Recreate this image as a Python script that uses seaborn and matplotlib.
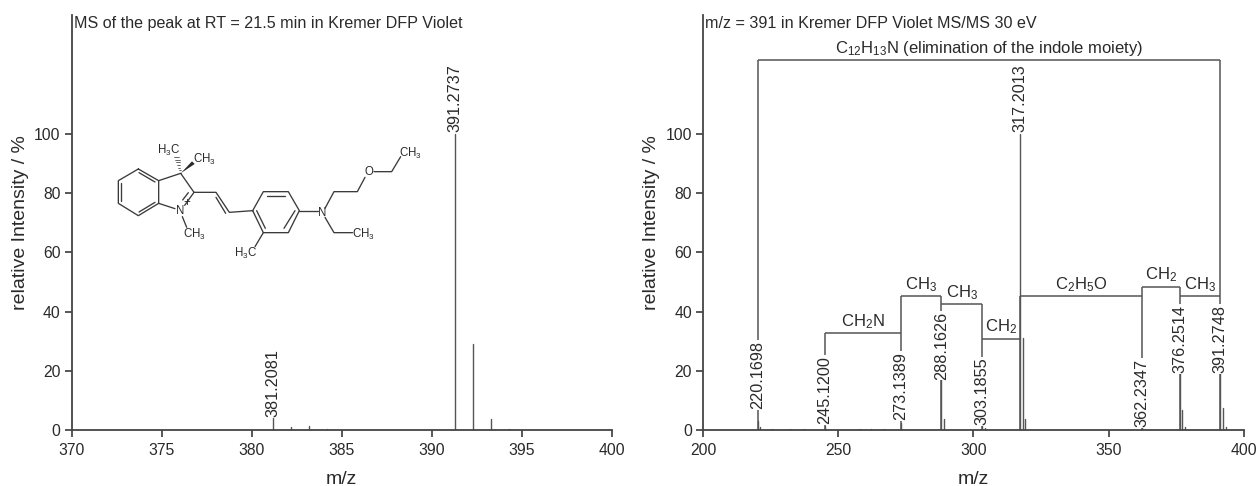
import pandas as pd
import matplotlib
matplotlib.use("Agg")
import matplotlib.pyplot as plt
from matplotlib.patches import Polygon
import seaborn as sns

# ── Data ─────────────────────────────────────────────────────────────────────
MS_MZ = [381.2081, 382.21, 383.21, 384.21, 391.2737, 392.277, 393.28, 394.28]
MS_INT = [4.2, 0.9, 1.3, 0.2, 100, 29, 3.6, 0.3]
MS_LABELS = [("381.2081", 381.2081, 4.4), ("391.2737", 391.2737, 100.7)]

MSMS_MZ = [220.1698, 221.17, 225.5, 232.0, 237.5, 245.12, 258.0, 262.0, 267.0,
           273.1389, 288.1626, 289.17, 303.1855, 304.19, 317.2013, 318.205,
           319.21, 362.2347, 376.2514, 377.255, 378.26, 391.2748, 392.28, 393.28]
MSMS_INT = [3, 1.0, 0.4, 0.5, 0.3, 1.2, 0.3, 0.3, 0.3,
            2.5, 18, 3.8, 1.5, 0.7, 100, 31, 3.8,
            1.0, 20, 6.8, 1.0, 20, 7.4, 1.0]
MSMS_LABELS = [("220.1698", 220.1698, 7.0), ("245.1200", 245.12, 2.0),
               ("273.1389", 273.1389, 3.4), ("288.1626", 288.1626, 17.0),
               ("303.1855", 303.1855, 1.7), ("317.2013", 317.2013, 100.7),
               ("362.2347", 362.2347, 1.0), ("376.2514", 376.2514, 19.3),
               ("391.2748", 391.2748, 19.3)]

# neutral losses: label, from m/z, to m/z, level
LOSS_LABELS = ["CH$_2$N", "CH$_3$", "CH$_3$", "CH$_2$", "C$_2$H$_5$O", "CH$_2$", "CH$_3$",
               "C$_{12}$H$_{13}$N (elimination of the indole moiety)"]
LOSS_FROM = [245.12, 273.1389, 288.1626, 303.1855, 317.2013, 362.2347, 376.2514, 220.1698]
LOSS_TO = [273.1389, 288.1626, 303.1855, 317.2013, 362.2347, 376.2514, 391.2748, 391.2748]
LOSS_LEVEL = [32.8, 45.2, 42.6, 30.9, 45.3, 48.4, 45.3, 125]

# ── Structure drawing, in pixels of the picture ──────────────────────────────
BONDS = [
    [(235, 147), (296, 182), (296, 250), (235, 287), (175, 250), (175, 182), (235, 147)],
    [(183, 190), (183, 243)], [(237, 158), (285, 186)], [(237, 276), (285, 247)],
    [(296, 182), (362, 160), (402, 217), (374, 256)], [(385, 218), (368, 240)],
    [(296, 250), (345, 266)], [(367, 290), (380, 322)],
    [(402, 217), (468, 217), (508, 277), (578, 272)], [(468, 232), (497, 280)],
    [(578, 272), (610, 215), (685, 215), (718, 272), (685, 338), (610, 338), (578, 272)],
    [(620, 227), (675, 227)], [(590, 272), (616, 325)], [(672, 325), (705, 272)],
    [(718, 272), (775, 272)], [(610, 338), (585, 380)],
    [(795, 265), (822, 215), (892, 215), (915, 172)],
    [(942, 155), (995, 155), (1022, 110)],
    [(795, 292), (822, 338), (878, 338)],
]
ATOMS = [("H$_3$C", 327, 92), ("CH$_3$", 433, 118), ("N", 360, 274), ("+", 381, 250),
         ("CH$_3$", 403, 342), ("H$_3$C", 557, 400), ("N", 787, 278), ("O", 927, 157),
         ("CH$_3$", 1050, 100), ("CH$_3$", 910, 342)]

sns.set_theme(style="ticks")
plt.rcParams["font.family"] = ["Liberation Sans", "DejaVu Sans"]
plt.rcParams["mathtext.default"] = "regular"
plt.rcParams["mathtext.fontset"] = "custom"
plt.rcParams["mathtext.rm"] = "Liberation Sans"

W, H = 1257, 486
INK = "#2a2a2a"
STEM = "#555555"


def stems(mz, intensity):
    rows = []
    for i, (m, v) in enumerate(zip(mz, intensity)):
        rows += [(i, m, 0), (i, m, v)]
    return pd.DataFrame(rows, columns=["peak", "mz", "intensity"])


def make_axes(fig, left, right, xlim, xticks, title):
    top, bottom = 15, 430
    ax = fig.add_axes([left / W, 1 - bottom / H, (right - left) / W, (bottom - top) / H])
    ax.set_xlim(*xlim)
    ax.set_ylim(0, (bottom - top) / 2.96)
    ax.set_xticks(xticks)
    ax.set_yticks(range(0, 101, 20))
    ax.tick_params(colors=INK, labelsize=11.3, width=1.1, length=5, pad=3)
    ax.tick_params(axis="x", pad=4)
    sns.despine(ax=ax)
    for side in ("left", "bottom"):
        ax.spines[side].set_linewidth(1.3)
        ax.spines[side].set_color("#444444")
    ax.text(2 / (right - left), 0.9795, title, transform=ax.transAxes,
            fontsize=11.6, color=INK, va="center", ha="left")
    return ax


def axis_labels(ax, left, right):
    ax.set_xlabel("m/z", fontsize=14, color=INK)
    ax.set_ylabel("relative Intensity / %", fontsize=14, color=INK)
    ax.yaxis.set_label_coords(-42.5 / (right - left), 0.5)
    ax.xaxis.set_label_coords(0.5, -41 / 415)


def peak_labels(ax, labels):
    for text, mz, y in labels:
        ax.text(mz, y, text, rotation=90, ha="center", va="bottom", fontsize=11.7, color=INK,
                zorder=5, bbox=dict(facecolor="white", edgecolor="none", pad=0.6))


fig = plt.figure(figsize=(W / 100, H / 100), dpi=100)

# ── Left : MS ────────────────────────────────────────────────────────────────
ax1 = make_axes(fig, 71.5, 611.7, (370, 400), range(370, 401, 5),
                "MS of the peak at RT = 21.5 min in Kremer DFP Violet")
sns.lineplot(data=stems(MS_MZ, MS_INT), x="mz", y="intensity", units="peak", estimator=None,
             color=STEM, linewidth=1.0, ax=ax1)
axis_labels(ax1, 71.5, 611.7)
peak_labels(ax1, MS_LABELS)

# ── Right : MS/MS ────────────────────────────────────────────────────────────
ax2 = make_axes(fig, 703, 1244, (200, 400), range(200, 401, 50),
                "m/z = 391 in Kremer DFP Violet MS/MS 30 eV")
sns.lineplot(data=stems(MSMS_MZ, MSMS_INT), x="mz", y="intensity", units="peak", estimator=None,
             color=STEM, linewidth=1.0, ax=ax2)
axis_labels(ax2, 703, 1244)

# loss brackets: each leg runs down to the axis behind the peak label
for label, a, b, level in zip(LOSS_LABELS, LOSS_FROM, LOSS_TO, LOSS_LEVEL):
    ax2.hlines(level, a, b, color=STEM, linewidth=1.1)
    ax2.text((a + b) / 2, level + 0.8, label, ha="center", va="bottom", fontsize=12, color=INK)
tops = {}
for a, b, level in zip(LOSS_FROM, LOSS_TO, LOSS_LEVEL):
    for m in (a, b):
        tops[m] = max(tops.get(m, 0), level)
ax2.vlines(list(tops), 0, list(tops.values()), color=STEM, linewidth=1.1)
peak_labels(ax2, MSMS_LABELS)

# ── Structure overlay ────────────────────────────────────────────────────────
ov = fig.add_axes([0, 0, 1, 1], facecolor="none")
ov.set_xlim(0, W)
ov.set_ylim(H, 0)
ov.axis("off")


def px(x, y):
    return 60 + x / 3, 120 + y / 3


for bond in BONDS:
    xs, ys = zip(*[px(*p) for p in bond])
    ov.plot(xs, ys, color="#3a3a3a", linewidth=0.95, solid_capstyle="round")
ov.add_patch(Polygon([px(362, 160), px(396, 124), px(404, 132)], closed=True, color=INK, lw=0))
for k in range(7):
    f = k / 6
    cx, cy = 362 - 12 * f, 158 - 46 * f
    half = 1 + 7 * f
    ov.plot(*zip(px(cx - half, cy), px(cx + half, cy)), color=INK, linewidth=0.5)
for text, x, y in ATOMS:
    ov.text(*px(x, y), text, fontsize=8.3, color=INK, ha="center", va="center")

fig.savefig("out.png", dpi=100)
plt.close(fig)
